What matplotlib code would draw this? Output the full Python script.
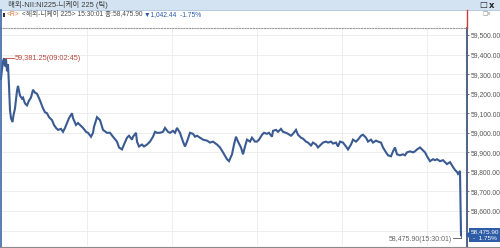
import matplotlib
matplotlib.use("Agg")
import matplotlib.pyplot as plt
from matplotlib import font_manager
from matplotlib.patches import Rectangle, Polygon
from matplotlib.lines import Line2D

# ---------------- data ----------------
tick_no = [1, 2, 3, 4, 5, 6, 7, 8, 9, 10, 11, 12.5, 13.5, 15, 17, 18, 20, 22, 23, 25,
           27, 29, 31, 33, 35, 37, 40, 43, 45, 47, 49, 52, 54, 56, 58, 61, 63, 65, 67, 69,
           72, 73, 76, 78, 81, 83, 86, 88, 91, 93, 94, 97, 99, 100, 103, 107, 110, 113, 117, 119,
           122, 124, 127, 129, 132, 133, 136, 137, 139, 142, 144, 147, 150, 153, 155, 157, 160, 163, 165, 168,
           170, 173, 175, 177, 180, 183, 185, 187, 190, 193, 195, 197, 200, 203, 207, 210, 213, 217, 219, 220,
           223, 227, 229, 232, 234, 236, 238, 241, 243, 245, 247, 250, 252, 255, 257, 259, 262, 264, 267, 269,
           272, 273, 276, 278, 281, 283, 286, 288, 291, 293, 296, 298, 301, 303, 306, 308, 311, 313, 316, 318,
           321, 323, 326, 328, 331, 333, 336, 338, 340, 343, 346, 348, 351, 353, 356, 358, 361, 363, 366, 368,
           371, 373, 376, 378, 381, 383, 386, 388, 391, 393, 395, 397, 400, 403, 405, 407, 410, 413, 415, 417,
           420, 423, 425, 427, 430, 433, 435, 437, 440, 443, 445, 447, 450, 453, 455, 457, 458, 460, 461]
price = [59275, 59325, 59365, 59381.25, 59340, 59375, 59315, 59350, 59240, 59115, 59075, 59055, 59090, 59125, 59215, 59240, 59190, 59175, 59180, 59150,
         59140, 59165, 59180, 59220, 59205, 59200, 59165, 59125, 59105, 59100, 59080, 59065, 59040, 59025, 59015, 59020, 59005, 59025, 59050, 59075,
         59100, 59075, 59040, 59050, 59035, 59025, 59005, 59000, 58980, 59000, 59030, 59080, 59070, 59065, 59015, 59000, 59000, 58980, 58955, 58925,
         58915, 58940, 58975, 58985, 58965, 58980, 59000, 58955, 58930, 58940, 58930, 58940, 58955, 58980, 59005, 59000, 59000, 59005, 59025, 59005,
         59000, 59010, 59000, 59025, 59000, 58955, 58930, 58955, 59000, 58995, 58980, 58985, 58975, 58965, 58960, 58950, 58955, 58940, 58930, 58925,
         58900, 58865, 58855, 58890, 58940, 58980, 58955, 58925, 58890, 58930, 58965, 58955, 58975, 58955, 58955, 58965, 58990, 59000, 58995, 59000,
         58980, 59010, 59015, 59005, 59020, 59005, 59000, 58995, 58985, 58995, 59015, 58990, 58975, 58970, 58955, 58950, 58935, 58950, 58940, 58925,
         58940, 58950, 58955, 58950, 58955, 58945, 58950, 58930, 58955, 58950, 58930, 58915, 58940, 58965, 58955, 58965, 58985, 58990, 58975, 58955,
         58965, 58950, 58960, 58955, 58950, 58925, 58900, 58885, 58880, 58905, 58925, 58890, 58885, 58890, 58885, 58900, 58905, 58900, 58905, 58915,
         58925, 58910, 58900, 58880, 58855, 58865, 58860, 58865, 58855, 58860, 58850, 58840, 58850, 58825, 58810, 58800, 58790, 58805, 58475.90]

y_ticks = [58600, 58700, 58800, 58900, 59000, 59100, 59200, 59300, 59400, 59500]
y_tick_labels = ["58,600.00", "58,700.00", "58,800.00", "58,900.00", "59,000.00",
                 "59,100.00", "59,200.00", "59,300.00", "59,400.00", "59,500.00"]
grid_levels = [58500, 58600, 58700, 58800, 58900, 59000, 59100, 59200, 59300, 59400, 59500]
vgrid_ticks = [87, 172, 257, 342, 427]

title_text = "해외-NII:NI225-니케이 225 (틱)"
info_r = "<R>"
info_main = " <해외-니케이 225> 15:30:01 종:58,475.90 "
info_change = "▼1,042.44  -1.75%"
high_label = "59,381.25(09:02:45)"
close_label = "58,475.90(15:30:01)"
box_lines = ["58,475.90", "-  1.75%"]

# ---------------- fonts ----------------
def pick(names):
    for n in names:
        try:
            font_manager.findfont(font_manager.FontProperties(family=n), fallback_to_default=False)
            return n
        except Exception:
            pass
    return "DejaVu Sans"

NARROW = pick(["Liberation Sans Narrow", "Liberation Sans", "DejaVu Sans"])
CJK = pick(["Noto Sans CJK KR", "Noto Sans CJK SC"])
MIX = [NARROW, CJK, "DejaVu Sans"]

W, H = 500, 248
fig = plt.figure(figsize=(W / 100, H / 100), dpi=100)
fig.patch.set_facecolor("white")

def fx(x):
    return x / W

def fy(y):
    return 1 - y / H

# ---------------- main axes ----------------
ax = fig.add_axes([fx(0), fy(246), fx(467), (246 - 28) / H])
ax.set_facecolor("white")
ax.set_xlim(0, 467)
ymax = 59500 + 7 / 0.1956
ymin = 59500 - 211 / 0.1956
ax.set_ylim(ymin, ymax)

for g in grid_levels:
    ax.axhline(g, color="#ebebeb", lw=0.6, zorder=0)
for v in vgrid_ticks:
    ax.axvline(v, color="#ebebeb", lw=0.6, zorder=0)

ax.plot(tick_no, price, color="#3a5a92", lw=1.5, solid_joinstyle="miter", zorder=3)

# high annotation
i_hi = price.index(max(price))
ax.plot([tick_no[i_hi], tick_no[i_hi] + 10], [price[i_hi], price[i_hi]], color="#b5483a", lw=0.6, zorder=4)
ax.text(tick_no[i_hi] + 11, price[i_hi], high_label, color="#b5483a", fontsize=5.3,
        family=NARROW, va="center", ha="left", zorder=5)

# close annotation
ax.plot([tick_no[-1] - 8, tick_no[-1]], [price[-1] - 14, price[-1] - 14], color="#555555", lw=0.6, zorder=4)
ax.plot([tick_no[-1], tick_no[-1]], [price[-1] - 14, price[-1]], color="#555555", lw=0.6, zorder=4)
ax.text(tick_no[-1] - 9, price[-1] - 20, close_label, color="#666666", fontsize=5.0,
        family=NARROW, va="center", ha="right", zorder=5)

ax.set_xticks([])
ax.yaxis.tick_right()
ax.set_yticks(y_ticks)
ax.set_yticklabels(y_tick_labels, fontsize=4.9, color="#555555", family=NARROW)
ax.tick_params(axis="y", length=1.5, width=0.6, color="#4f6282", pad=1.2)

for s in ["left", "bottom"]:
    ax.spines[s].set_visible(False)
ax.spines["top"].set_color("#9a9a9a")
ax.spines["top"].set_linestyle((0, (1, 1.5)))
ax.spines["top"].set_linewidth(0.8)
ax.spines["right"].set_color("#4f6282")
ax.spines["right"].set_linewidth(1.4)

# ---------------- frame decorations ----------------
fig.patches.append(Rectangle((0, fy(9.5)), 1, 9.5 / H, transform=fig.transFigure,
                             facecolor="#d3e3f1", edgecolor="none", zorder=0))
fig.lines.append(Line2D([0, 1], [fy(9.5), fy(9.5)], transform=fig.transFigure, color="#a9c2da", lw=0.6))
fig.lines.append(Line2D([fx(0.6), fx(0.6)], [fy(248), fy(9.5)], transform=fig.transFigure, color="#3b67a8", lw=1.2))
fig.lines.append(Line2D([0, 1], [fy(247), fy(247)], transform=fig.transFigure, color="#8a8a8a", lw=0.8))
fig.lines.append(Line2D([fx(467), fx(467)], [fy(28), fy(10)], transform=fig.transFigure, color="#d03a3a", lw=1.0))

fig.text(fx(8), fy(5), title_text, fontsize=5.4, family=MIX, color="#3a3a3a", va="center", ha="left")
fig.text(fx(483), fy(5), "□", fontsize=6, family="DejaVu Sans", color="#222222", va="center", ha="center")
fig.text(fx(492), fy(5), "x", fontsize=6, family="DejaVu Sans", color="#222222", va="center", ha="center", weight="bold")
fig.text(fx(487), fy(14), "□x", fontsize=4, family="DejaVu Sans", color="#888888", va="center", ha="center")

fig.patches.append(Rectangle((fx(3), fy(16.5)), fx(1.5), 4 / H, transform=fig.transFigure,
                             facecolor="#333333", edgecolor="none"))
renderer = fig.canvas.get_renderer()
xcur = fx(7)
for txt, col in [(info_r, "#e07b39"), (info_main, "#4a4a4a"), (info_change, "#2a5aa8")]:
    t = fig.text(xcur, fy(14.5), txt, fontsize=4.8, family=MIX, color=col, va="center", ha="left")
    bb = t.get_window_extent(renderer=renderer)
    xcur = bb.x1 / W

# price box at right
ybox0, ybox1 = 228, 242
fig.patches.append(Rectangle((fx(469), fy(ybox1)), fx(31), (ybox1 - ybox0) / H, transform=fig.transFigure,
                             facecolor="#2f5ca6", edgecolor="none", zorder=5))
fig.patches.append(Polygon([[fx(466), fy(235)], [fx(469.5), fy(231.5)], [fx(469.5), fy(238.5)]],
                           transform=fig.transFigure, facecolor="#2f5ca6", edgecolor="none", zorder=5))
fig.text(fx(484.5), fy(231.5), box_lines[0], fontsize=4.6, family=NARROW, color="white",
         va="center", ha="center", zorder=6)
fig.text(fx(484.5), fy(238.5), box_lines[1], fontsize=4.6, family=NARROW, color="white",
         va="center", ha="center", zorder=6)

fig.savefig("out.png", dpi=100, facecolor="white")
